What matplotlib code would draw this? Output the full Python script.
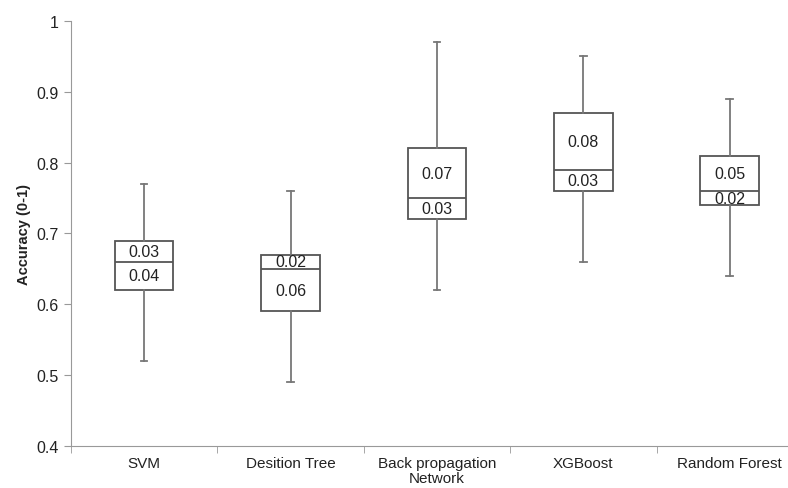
import matplotlib.pyplot as plt
from matplotlib.ticker import FixedLocator, NullFormatter

plt.rcParams['font.family'] = ['Liberation Sans', 'DejaVu Sans']

models = ['SVM', 'Desition Tree', 'Back propagation\nNetwork', 'XGBoost', 'Random Forest']
mins = [0.52, 0.49, 0.62, 0.66, 0.64]
q1 = [0.62, 0.59, 0.72, 0.76, 0.74]
medians = [0.66, 0.65, 0.75, 0.79, 0.76]
q3 = [0.69, 0.67, 0.82, 0.87, 0.81]
maxs = [0.77, 0.76, 0.97, 0.95, 0.89]

fig = plt.figure(figsize=(7.88, 4.89), dpi=100)
ax = fig.add_axes([0.09, 0.086, 0.929, 0.869])

stats = []
for i, name in enumerate(models):
    stats.append(dict(label=name, whislo=mins[i], q1=q1[i], med=medians[i],
                      q3=q3[i], whishi=maxs[i], fliers=[]))

pos = list(range(len(models)))
ax.bxp(stats, positions=pos, widths=0.4, showfliers=False, patch_artist=True,
       boxprops=dict(facecolor='white', edgecolor='#555555', linewidth=1.3),
       medianprops=dict(color='#555555', linewidth=1.3),
       whiskerprops=dict(color='#777777', linewidth=1.3),
       capprops=dict(color='#777777', linewidth=1.3), capwidths=0.045)

# spread labels: upper half (q3 - median) and lower half (median - q1)
for i in pos:
    up = q3[i] - medians[i]
    lo = medians[i] - q1[i]
    ax.text(i, (q3[i] + medians[i]) / 2, f'{up:.2f}', ha='center', va='center',
            fontsize=11.5, color='#222222')
    ax.text(i, (q1[i] + medians[i]) / 2, f'{lo:.2f}', ha='center', va='center',
            fontsize=11.5, color='#222222')

ax.set_xlim(-0.5, len(models) - 0.5)
ax.set_ylim(0.4, 1.0)
ax.set_yticks([0.4, 0.5, 0.6, 0.7, 0.8, 0.9, 1.0])
ax.set_yticklabels(['0.4', '0.5', '0.6', '0.7', '0.8', '0.9', '1'])
ax.set_xticks(pos)
ax.set_xticklabels(models, fontsize=11, color='#222222', linespacing=1.1)
ax.tick_params(axis='x', length=0, pad=7)
ax.xaxis.set_minor_locator(FixedLocator([p - 0.5 for p in pos] + [len(models) - 0.5]))
ax.xaxis.set_minor_formatter(NullFormatter())
ax.tick_params(axis='x', which='minor', length=5, color='#999999')
ax.tick_params(axis='y', length=5, color='#999999', labelsize=11.5, labelcolor='#222222')

ax.set_ylabel('Accuracy (0-1)', fontsize=10.5, fontweight='bold', color='#222222')

for s in ['top', 'right']:
    ax.spines[s].set_visible(False)
for s in ['left', 'bottom']:
    ax.spines[s].set_color('#999999')

fig.savefig('out.png', dpi=100)
